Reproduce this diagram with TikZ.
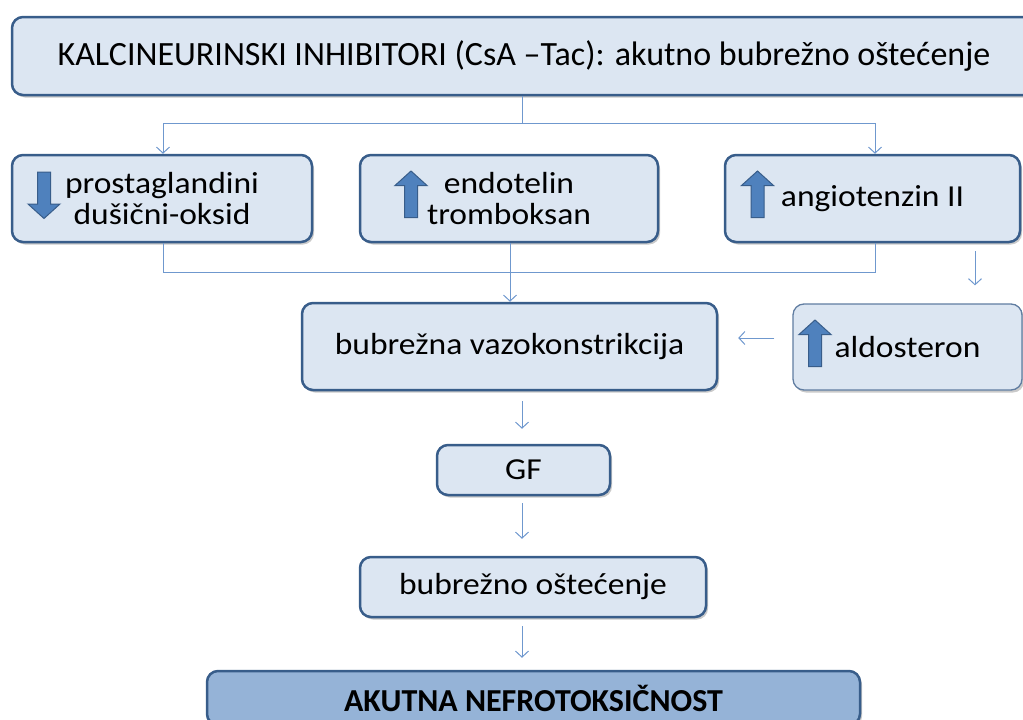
\documentclass[tikz,border=0pt]{standalone}
\usepackage{fontspec}
\setmainfont{Carlito}
\usetikzlibrary{arrows.meta,shadows,positioning}
\definecolor{boxfill}{HTML}{DCE6F2}
\definecolor{boxdraw}{HTML}{385D8A}
\definecolor{connc}{HTML}{6F98CE}
\definecolor{finalfill}{HTML}{95B3D7}
\definecolor{barrfill}{HTML}{4F81BD}
\newcommand{\wtxt}[1]{\scalebox{1.1}[1]{#1}}
\tikzset{
  box/.style={draw=boxdraw, line width=2.5pt, fill=boxfill, rounded corners=11pt,
    align=center, inner sep=0pt,
    drop shadow={shadow xshift=2pt, shadow yshift=-2.5pt, opacity=0.35, fill=black!60},
    font=\fontsize{30.5}{31}\selectfont},
  thinbox/.style={box, draw=boxdraw!80, line width=1.3pt},
  line/.style={draw=connc, line width=1pt},
  arr/.style={line, -{Straight Barb[length=6pt,width=13pt,line width=1pt]}},
  blockarr/.pic={
    \path[fill=barrfill, draw=boxdraw, line width=1pt]
      (-6.5,23) -- (6.5,23) -- (6.5,-9) -- (16,-9) -- (0,-23.5) -- (-16,-9) -- (-6.5,-9) -- cycle;
  }
}
\begin{document}
\begin{tikzpicture}[x=1pt,y=-1pt]
\useasboundingbox (0,0) rectangle (1023,720);
% boxes
\node[box, minimum width=1024pt, minimum height=78pt, font=\fontsize{34}{36}\selectfont] (top) at (524,56)
  {KALCINEURINSKI INHIBITORI (CsA –Tac): akutno bubrežno oštećenje};
\node[box, minimum width=300pt, minimum height=87pt] (A) at (162,198.5)
  {\wtxt{prostaglandini}\\\wtxt{dušični-oksid}};
\node[box, minimum width=298pt, minimum height=87pt] (B) at (509,198.5)
  {\wtxt{endotelin}\\\wtxt{tromboksan}};
\node[box, minimum width=295pt, minimum height=87pt] (C) at (872.5,198.5)
  {\wtxt{angiotenzin II}};
\node[box, minimum width=415pt, minimum height=87pt] (V) at (509.5,346.5)
  {\wtxt{bubrežna vazokonstrikcija}};
\node[thinbox, minimum width=229pt, minimum height=86pt] (AL) at (907.5,347)
  {\wtxt{aldosteron}};
\node[box, minimum width=173pt, minimum height=50pt] (GF) at (523.5,470)
  {\wtxt{GF}};
\node[box, minimum width=346pt, minimum height=60pt] (BO) at (533,587)
  {\wtxt{bubrežno oštećenje}};
\node[box, fill=finalfill, minimum width=653pt, minimum height=54pt, font=\fontsize{32}{34}\selectfont\bfseries] (F) at (533.5,698)
  {AKUTNA NEFROTOKSIČNOST};
% block arrows
\pic[rotate=180] at (44,195) {blockarr};
\pic at (411,194.5) {blockarr};
\pic at (757.5,194.5) {blockarr};
\pic at (815,343.5) {blockarr};
% coordinates for connectors
\coordinate (j1) at (522,123);
\coordinate (j2) at (0,272);
\coordinate (ca) at (163,0);
\coordinate (cc) at (875,0);
\coordinate (cb) at (510,0);
\coordinate (cq) at (975,0);
\coordinate (ya) at (0,338);
\coordinate (cm) at (522,0);
% connectors
\draw[line] (top.south -| j1) -- (j1);
\draw[line] (ca |- j1) -- (cc |- j1);
\draw[arr] (ca |- j1) -- (A.north -| ca);
\draw[arr] (cc |- j1) -- (C.north -| cc);
\draw[line] (A.south -| ca) -- (ca |- j2) -- (cc |- j2) -- (C.south -| cc);
\draw[arr] (B.south -| cb) -- (V.north -| cb);
\draw[arr, shorten <=8pt, shorten >=18pt] (C.south -| cq) -- (AL.north -| cq);
\draw[arr, shorten <=18pt, shorten >=20pt] (AL.west |- ya) -- (V.east |- ya);
\draw[arr, shorten <=10pt, shorten >=15pt] (V.south -| cm) -- (GF.north -| cm);
\draw[arr, shorten <=7pt, shorten >=17pt] (GF.south -| cm) -- (BO.north -| cm);
\draw[arr, shorten <=8pt, shorten >=12pt] (BO.south -| cm) -- (F.north -| cm);
\end{tikzpicture}
\end{document}
